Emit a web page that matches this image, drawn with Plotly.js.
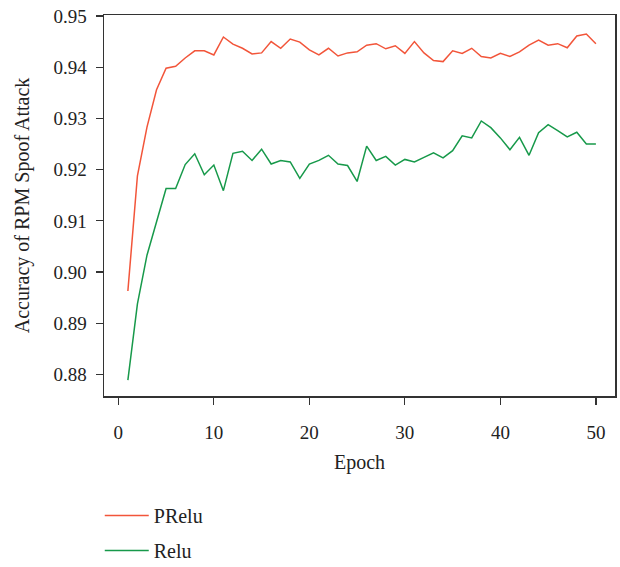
<!DOCTYPE html>
<html>
<head>
<meta charset="utf-8">
<script src="https://cdn.plot.ly/plotly-3.0.1.min.js"></script>
<style>html,body{margin:0;padding:0;background:#fff;}#chart{width:620px;height:567px;}</style>
</head>
<body>
<div id="chart"></div>
<script>
var epochs = [1,2,3,4,5,6,7,8,9,10,11,12,13,14,15,16,17,18,19,20,21,22,23,24,25,26,27,28,29,30,31,32,33,34,35,36,37,38,39,40,41,42,43,44,45,46,47,48,49,50];
var preluAcc = [0.8963,0.9188,0.9283,0.9356,0.9398,0.9402,0.9418,0.9432,0.9432,0.9424,
  0.9459,0.9445,0.9437,0.9426,0.9428,0.9450,0.9437,0.9455,0.9449,0.9434,
  0.9424,0.9437,0.9422,0.9428,0.9430,0.9443,0.9446,0.9436,0.9442,0.9427,
  0.9450,0.9428,0.9413,0.9411,0.9432,0.9427,0.9437,0.9421,0.9418,0.9427,
  0.9421,0.9430,0.9443,0.9453,0.9443,0.9446,0.9438,0.9461,0.9465,0.9446];
var reluAcc = [0.8789,0.8938,0.9033,0.9099,0.9163,0.9163,0.9210,0.9231,0.9190,0.9209,
  0.9159,0.9232,0.9236,0.9218,0.9240,0.9211,0.9218,0.9215,0.9183,0.9211,
  0.9218,0.9228,0.9211,0.9208,0.9177,0.9246,0.9218,0.9226,0.9209,0.9220,
  0.9215,0.9224,0.9233,0.9223,0.9237,0.9266,0.9262,0.9295,0.9282,0.9262,
  0.9239,0.9263,0.9228,0.9272,0.9288,0.9276,0.9264,0.9273,0.9250,0.9250];
var seriesNames = ["PRelu", "Relu"];

var fontFam = "Liberation Serif, DejaVu Serif, serif";
var traces = [
  {x: epochs, y: preluAcc, name: seriesNames[0], legendgroup: "g1", type: "scatter", mode: "lines",
   line: {color: "#f2553a", width: 1.5}},
  {x: epochs, y: reluAcc, name: seriesNames[1], legendgroup: "g2", type: "scatter", mode: "lines",
   line: {color: "#17994a", width: 1.5}}
];
var axisCommon = {
  showgrid: false, zeroline: false, showline: true, mirror: true, automargin: false,
  linecolor: "#333", linewidth: 1.5, ticks: "outside", ticklen: 7,
  tickcolor: "#333", tickwidth: 1.2, tickfont: {family: fontFam, size: 19, color: "#222"}
};
var layout = {
  width: 620, height: 567,
  margin: {l: 104, r: 5, t: 15, b: 171, autoexpand: false},
  paper_bgcolor: "#fff", plot_bgcolor: "#fff",
  font: {family: fontFam, color: "#222"},
  xaxis: Object.assign({}, axisCommon, {
    range: [-1.5, 52], tick0: 0, dtick: 10, ticklabelstandoff: 12,
    title: {text: "Epoch", font: {family: fontFam, size: 20, color: "#222"}, standoff: 12}
  }),
  yaxis: Object.assign({}, axisCommon, {
    range: [0.8758, 0.9502], tick0: 0.88, dtick: 0.01, tickformat: ".2f", ticklabelstandoff: 5,
    title: {text: "Accuracy of RPM Spoof Attack", font: {family: fontFam, size: 20, color: "#222"}, standoff: 18}
  }),
  showlegend: true,
  legend: {orientation: "v", x: -0.0083, xanchor: "left", y: -0.2625, yanchor: "top",
    font: {family: fontFam, size: 20, color: "#222"}, tracegroupgap: 6, itemwidth: 44,
    bgcolor: "rgba(0,0,0,0)"}
};
Plotly.newPlot("chart", traces, layout, {displayModeBar: false, staticPlot: true});
</script>
</body>
</html>
